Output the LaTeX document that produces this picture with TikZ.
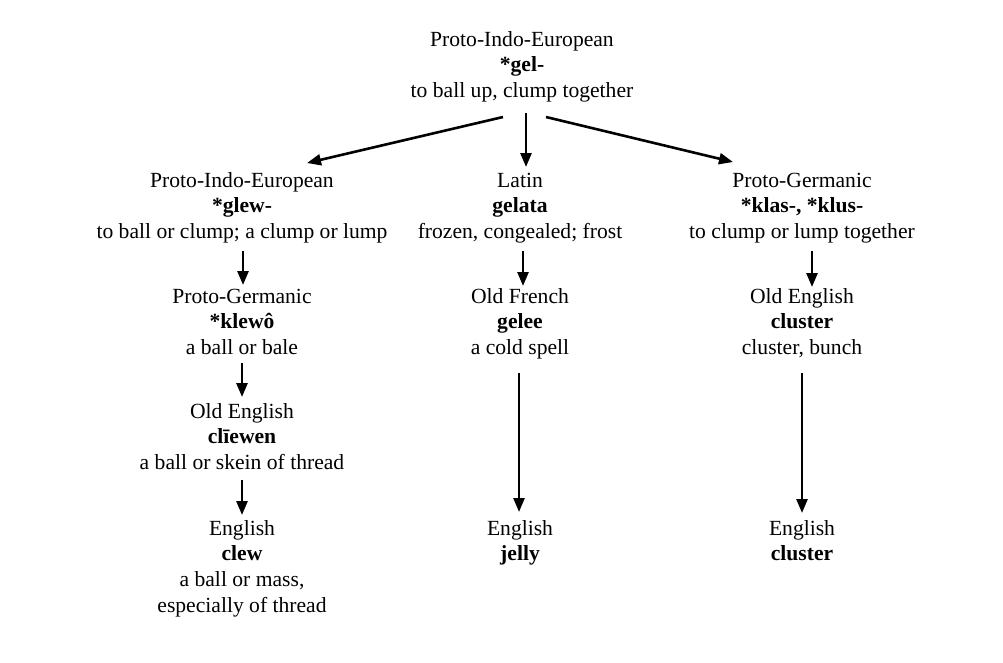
\documentclass[tikz,border=0pt]{standalone}
\usepackage{fontspec}
\setmainfont{Liberation Serif}
\usetikzlibrary{arrows.meta}
\newcommand{\etymfont}{\fontsize{21.6}{25.8}\selectfont}
\newcommand{\ety}[1]{\begin{tabular}[t]{@{}c@{}}#1\end{tabular}}
\begin{document}
\begin{tikzpicture}[x=1pt,y=-1pt,
  etym/.style={inner sep=0pt, anchor=base, font=\etymfont},
  arr/.style={line width=2.6pt, -{Triangle[length=14pt,width=11pt]}}]
\path[use as bounding box, fill=white] (0,0) rectangle (1003,662);
\renewcommand{\arraystretch}{1}
% top
\node[etym] (top) at (522,46) {\ety{Proto-Indo-European\\ \textbf{*gel-}\\ to ball up, clump together}};
% row 1
\node[etym] (pie) at (242,187) {\ety{Proto-Indo-European\\ \textbf{*glew-}\\ to ball or clump; a clump or lump}};
\node[etym] (lat) at (520,187) {\ety{Latin\\ \textbf{gelata}\\ frozen, congealed; frost}};
\node[etym] (pg) at (802,187) {\ety{Proto-Germanic\\ \textbf{*klas-, *klus-}\\ to clump or lump together}};
% row 2
\node[etym] (pgk) at (242,303) {\ety{Proto-Germanic\\ \textbf{*klewô}\\ a ball or bale}};
\node[etym] (of) at (520,303) {\ety{Old French\\ \textbf{gelee}\\ a cold spell}};
\node[etym] (oe) at (802,303) {\ety{Old English\\ \textbf{cluster}\\ cluster, bunch}};
% row 3
\node[etym] (oec) at (242,418) {\ety{Old English\\ \textbf{clīewen}\\ a ball or skein of thread}};
% row 4
\node[etym] (en1) at (242,535) {\ety{English\\ \textbf{clew}\\ a ball or mass,\\ especially of thread}};
\node[etym] (en2) at (520,535) {\ety{English\\ \textbf{jelly}}};
\node[etym] (en3) at (802,535) {\ety{English\\ \textbf{cluster}}};
% arrows
\draw[arr] ([shift={(-19,71)}]top.base) -- ([shift={(65,-24)}]pie.base);
\draw[arr] ([shift={(4,67)}]top.base) -- ([shift={(6,-20)}]lat.base);
\draw[arr] ([shift={(24,71)}]top.base) -- ([shift={(-69,-25)}]pg.base);
\draw[arr] ([shift={(1,64)}]pie.base) -- ([shift={(1,-18)}]pgk.base);
\draw[arr] ([shift={(0,60)}]pgk.base) -- ([shift={(0,-21)}]oec.base);
\draw[arr] ([shift={(0,62)}]oec.base) -- ([shift={(0,-20)}]en1.base);
\draw[arr] ([shift={(3,64)}]lat.base) -- ([shift={(3,-17)}]of.base);
\draw[arr] ([shift={(-1,70)}]of.base) -- ([shift={(-1,-23)}]en2.base);
\draw[arr] ([shift={(10,64)}]pg.base) -- ([shift={(10,-16)}]oe.base);
\draw[arr] ([shift={(0,70)}]oe.base) -- ([shift={(0,-22)}]en3.base);
\end{tikzpicture}
\end{document}
